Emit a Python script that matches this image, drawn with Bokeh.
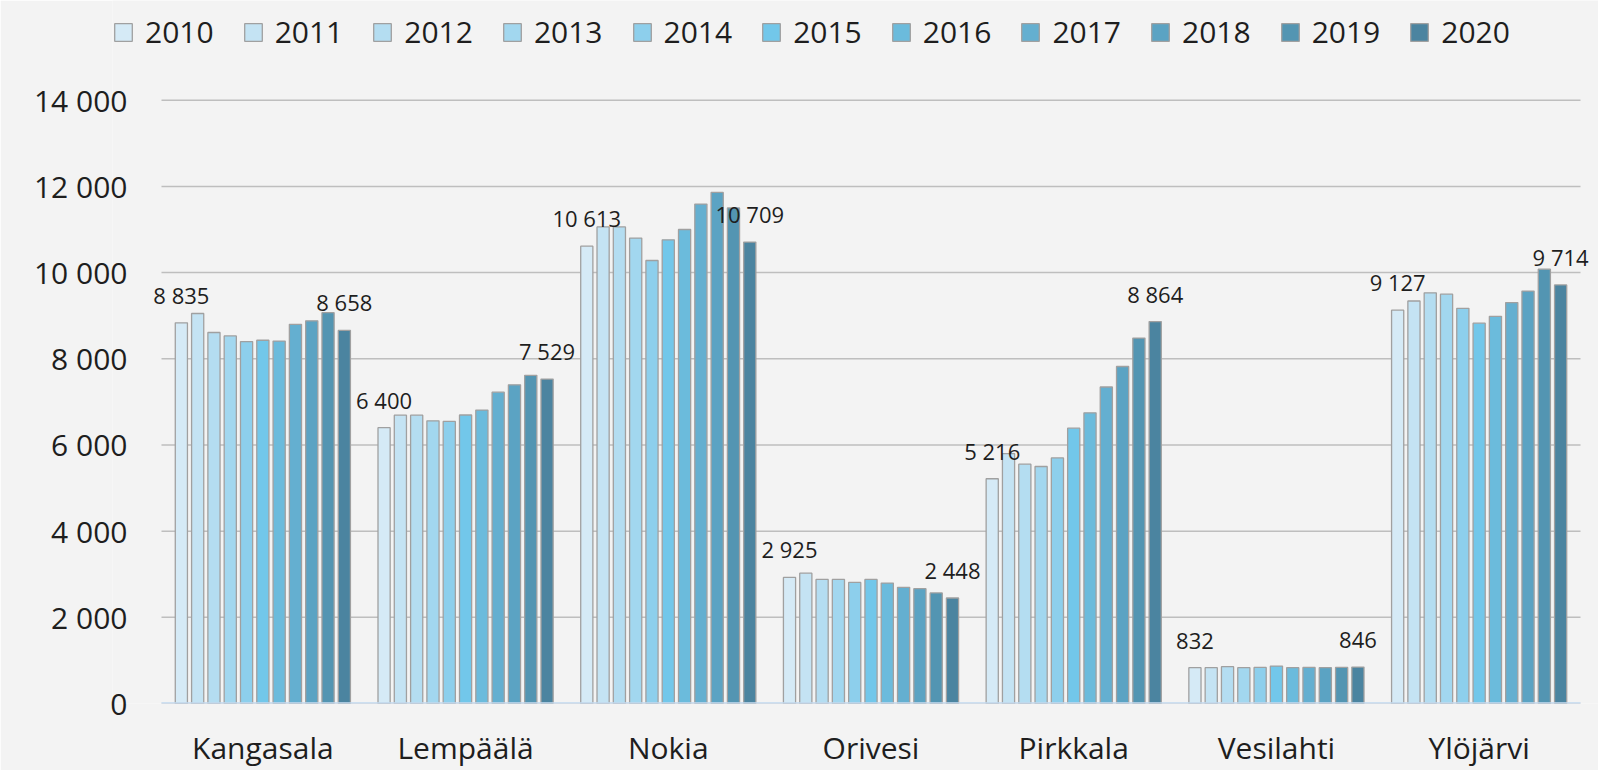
from bokeh.plotting import figure
from bokeh.models import (Range1d, ColumnDataSource, Legend, LegendItem,
                          FixedTicker, LabelSet)
from bokeh.transform import dodge
from bokeh.embed import file_html
from bokeh.resources import INLINE
from bokeh.core.properties import value

# ---------------- data ----------------
towns = ["Kangasala", "Lempäälä", "Nokia", "Orivesi", "Pirkkala", "Vesilahti", "Ylöjärvi"]
years = ["2010", "2011", "2012", "2013", "2014", "2015", "2016", "2017", "2018", "2019", "2020"]

kangasala = [8835, 9050, 8610, 8530, 8400, 8430, 8410, 8800, 8880, 9070, 8658]
lempaala  = [6400, 6690, 6690, 6560, 6545, 6695, 6810, 7225, 7395, 7615, 7529]
nokia     = [10613, 11060, 11060, 10800, 10280, 10760, 11000, 11590, 11860, 11500, 10709]
orivesi   = [2925, 3025, 2880, 2880, 2810, 2880, 2795, 2695, 2665, 2565, 2448]
pirkkala  = [5216, 5800, 5555, 5500, 5700, 6390, 6745, 7345, 7820, 8480, 8864]
vesilahti = [832, 832, 854, 832, 838, 868, 832, 838, 832, 838, 846]
ylojarvi  = [9127, 9340, 9530, 9500, 9170, 8825, 8985, 9305, 9570, 10080, 9714]

series_by_town = [kangasala, lempaala, nokia, orivesi, pirkkala, vesilahti, ylojarvi]

colors = ["#D5EAF6", "#C4E3F3", "#B4DDF1", "#A2D7EF", "#8DCFEC", "#72C7EA",
          "#6BBBDC", "#64AFD0", "#5BA3C3", "#5395B2", "#4B84A0"]

y_ticks = [0, 2000, 4000, 6000, 8000, 10000, 12000, 14000]
y_tick_labels = ["0", "2 000", "4 000", "6 000", "8 000", "10 000", "12 000", "14 000"]

# ---------------- layout / styling ----------------
W, H = 1598, 770
FONT = "Open Sans"
BG = "#F3F3F3"
TXT = "#1E1E1E"
EDGE = "#A0A0A0"
GRID = "#BEBEBE"
BASE = "#C5DCF3"
PITCH = 0.0804
BAR_W = 0.06

# pixel geometry of the plotting region
FRAME_L, FRAME_R, FRAME_T, FRAME_B = 112, 1598, 0, 705
AREA_L, AREA_R, AREA_T = 161, 1580, 100          # where the category axis / top grid sit
n = len(towns)
px_per_cat = (AREA_R - AREA_L) / n
x_start = -(AREA_L - FRAME_L) / px_per_cat
x_end = n + (FRAME_R - AREA_R) / px_per_cat
y_max = y_ticks[-1]
px_per_unit = (FRAME_B - AREA_T) / y_max
y_end = y_max + (AREA_T - FRAME_T) / px_per_unit


def fmt(v):
    return f"{v:,}".replace(",", " ")


p = figure(x_range=Range1d(x_start, x_end), y_range=Range1d(0, y_end),
           width=W, height=H, output_backend="svg", toolbar_location=None,
           min_border_left=FRAME_L, min_border_right=W - FRAME_R,
           min_border_top=FRAME_T, min_border_bottom=H - FRAME_B)
p.background_fill_color = BG
p.border_fill_color = BG
p.outline_line_color = None
p.xgrid.visible = False
p.ygrid.visible = False

pos = [i + 0.5 for i in range(n)]

# horizontal grid lines across the category area
p.segment(x0=[0] * len(y_ticks), x1=[n] * len(y_ticks), y0=y_ticks, y1=y_ticks,
          line_color=GRID, line_width=1.5)

items = []
for i, yr in enumerate(years):
    src = ColumnDataSource(dict(pos=pos, v=[s[i] for s in series_by_town]))
    r = p.vbar(x=dodge("pos", (i - 5) * PITCH), top="v",
               width=BAR_W, source=src, fill_color=colors[i],
               line_color=EDGE, line_width=1.3)
    items.append(LegendItem(label=yr, renderers=[r]))

# category baseline
p.segment(x0=[0], x1=[n], y0=[0], y1=[0], line_color=BASE, line_width=2.5)

# data labels on first and last year
for i in (0, 10):
    vals = [s[i] for s in series_by_town]
    lsrc = ColumnDataSource(dict(pos=pos, v=vals, t=[fmt(v) for v in vals]))
    ls = LabelSet(x=dodge("pos", (i - 5) * PITCH), y="v", text="t",
                  y_offset=19, source=lsrc,
                  text_font=value(FONT), text_font_size="22px", text_color=TXT,
                  text_align="center", text_baseline="alphabetic")
    p.add_layout(ls)

# y axis
p.yaxis.ticker = FixedTicker(ticks=y_ticks)
p.yaxis.major_label_overrides = {t: l for t, l in zip(y_ticks, y_tick_labels)}
p.yaxis.axis_line_color = None
p.yaxis.major_tick_line_color = None
p.yaxis.major_tick_out = 0
p.yaxis.major_tick_in = 0
p.yaxis.minor_tick_line_color = None
p.yaxis.major_label_standoff = FRAME_L - 127
p.yaxis.major_label_text_font = FONT
p.yaxis.major_label_text_font_size = "30px"
p.yaxis.major_label_text_color = TXT

# x axis (categories)
p.xaxis.ticker = FixedTicker(ticks=pos)
p.xaxis.major_label_overrides = {x: t for x, t in zip(pos, towns)}
p.xaxis.axis_line_color = None
p.xaxis.major_tick_line_color = None
p.xaxis.major_tick_out = 0
p.xaxis.major_tick_in = 0
p.xaxis.minor_tick_line_color = None
p.xaxis.major_label_standoff = 23
p.xaxis.major_label_text_font = FONT
p.xaxis.major_label_text_font_size = "30px"
p.xaxis.major_label_text_color = TXT

legend = Legend(items=items, orientation="horizontal", location=(0, 651),
                glyph_width=22, glyph_height=22, label_standoff=11, spacing=28,
                padding=0, margin=0, border_line_alpha=0, background_fill_alpha=0,
                label_text_font=FONT, label_text_font_size="30px",
                label_text_color=TXT)
p.add_layout(legend)

open("out.html", "w").write(file_html(p, INLINE))
